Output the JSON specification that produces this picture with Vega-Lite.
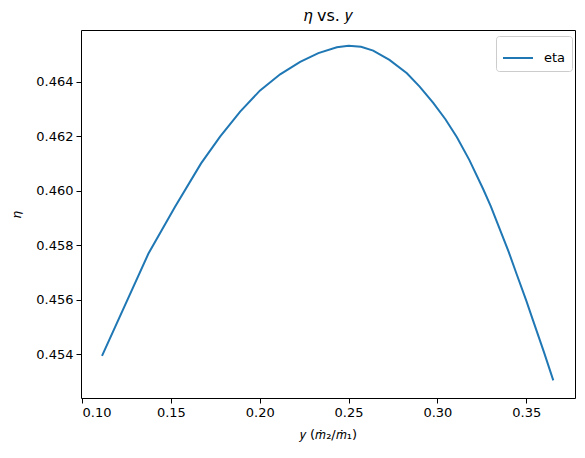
{
  "$schema": "https://vega.github.io/schema/vega-lite/v6.json",
  "width": 494,
  "height": 368,
  "autosize": "none",
  "padding": {"left": 81, "top": 30, "right": 10, "bottom": 60},
  "title": {"text": "𝜂 vs. 𝑦", "font": "DejaVu Sans", "fontSize": 16, "fontWeight": "normal", "color": "black", "offset": 6},
  "config": {
    "view": {"stroke": "black", "strokeWidth": 1},
    "font": "DejaVu Sans",
    "axis": {"domain": false, "grid": false, "tickColor": "black", "tickSize": 5, "labelColor": "black", "labelFont": "DejaVu Sans", "labelFontSize": 13, "labelPadding": 3, "titleFont": "DejaVu Sans", "titleFontSize": 13, "titleFontWeight": "normal", "titleColor": "black"}
  },
  "data": {"values": [
    {"y": 0.11126, "eta": 0.45393, "s": "eta"},
    {"y": 0.13733, "eta": 0.45768, "s": "eta"},
    {"y": 0.15237, "eta": 0.45941, "s": "eta"},
    {"y": 0.16700, "eta": 0.46100, "s": "eta"},
    {"y": 0.17770, "eta": 0.46198, "s": "eta"},
    {"y": 0.18900, "eta": 0.46290, "s": "eta"},
    {"y": 0.20023, "eta": 0.46368, "s": "eta"},
    {"y": 0.21150, "eta": 0.46427, "s": "eta"},
    {"y": 0.22275, "eta": 0.46473, "s": "eta"},
    {"y": 0.23300, "eta": 0.46505, "s": "eta"},
    {"y": 0.24341, "eta": 0.46526, "s": "eta"},
    {"y": 0.25000, "eta": 0.46532, "s": "eta"},
    {"y": 0.25700, "eta": 0.46528, "s": "eta"},
    {"y": 0.26385, "eta": 0.46514, "s": "eta"},
    {"y": 0.27300, "eta": 0.46480, "s": "eta"},
    {"y": 0.28283, "eta": 0.46431, "s": "eta"},
    {"y": 0.29000, "eta": 0.46382, "s": "eta"},
    {"y": 0.29764, "eta": 0.46322, "s": "eta"},
    {"y": 0.30450, "eta": 0.46262, "s": "eta"},
    {"y": 0.31098, "eta": 0.46196, "s": "eta"},
    {"y": 0.31800, "eta": 0.46112, "s": "eta"},
    {"y": 0.32579, "eta": 0.46005, "s": "eta"},
    {"y": 0.33000, "eta": 0.45943, "s": "eta"},
    {"y": 0.33536, "eta": 0.45854, "s": "eta"},
    {"y": 0.34000, "eta": 0.45777, "s": "eta"},
    {"y": 0.34476, "eta": 0.45690, "s": "eta"},
    {"y": 0.35000, "eta": 0.45596, "s": "eta"},
    {"y": 0.35394, "eta": 0.45521, "s": "eta"},
    {"y": 0.36000, "eta": 0.45406, "s": "eta"},
    {"y": 0.36520, "eta": 0.45303, "s": "eta"}
  ]},
  "mark": {"type": "line", "strokeWidth": 2, "clip": true},
  "encoding": {
    "x": {"field": "y", "type": "quantitative", "scale": {"domain": [0.09944, 0.37742], "nice": false, "zero": false},
      "axis": {"values": [0.10, 0.15, 0.20, 0.25, 0.30, 0.35], "format": ".2f", "title": "𝑦 (𝑚̇₂/𝑚̇₁)", "titlePadding": 9}},
    "y": {"field": "eta", "type": "quantitative", "scale": {"domain": [0.452385, 0.465897], "nice": false, "zero": false},
      "axis": {"values": [0.454, 0.456, 0.458, 0.460, 0.462, 0.464], "format": ".3f", "title": "𝜂", "titlePadding": 12}},
    "color": {"field": "s", "type": "nominal", "scale": {"range": ["#1f77b4"]},
      "legend": {"title": null, "orient": "none", "legendX": 415, "legendY": 6, "symbolType": "stroke", "symbolSize": 900, "symbolStrokeWidth": 2, "labelFontSize": 13, "labelColor": "black", "labelFont": "DejaVu Sans", "padding": 6, "strokeColor": "#cccccc", "fillColor": "white", "cornerRadius": 3, "labelOffset": 10}}
  }
}
